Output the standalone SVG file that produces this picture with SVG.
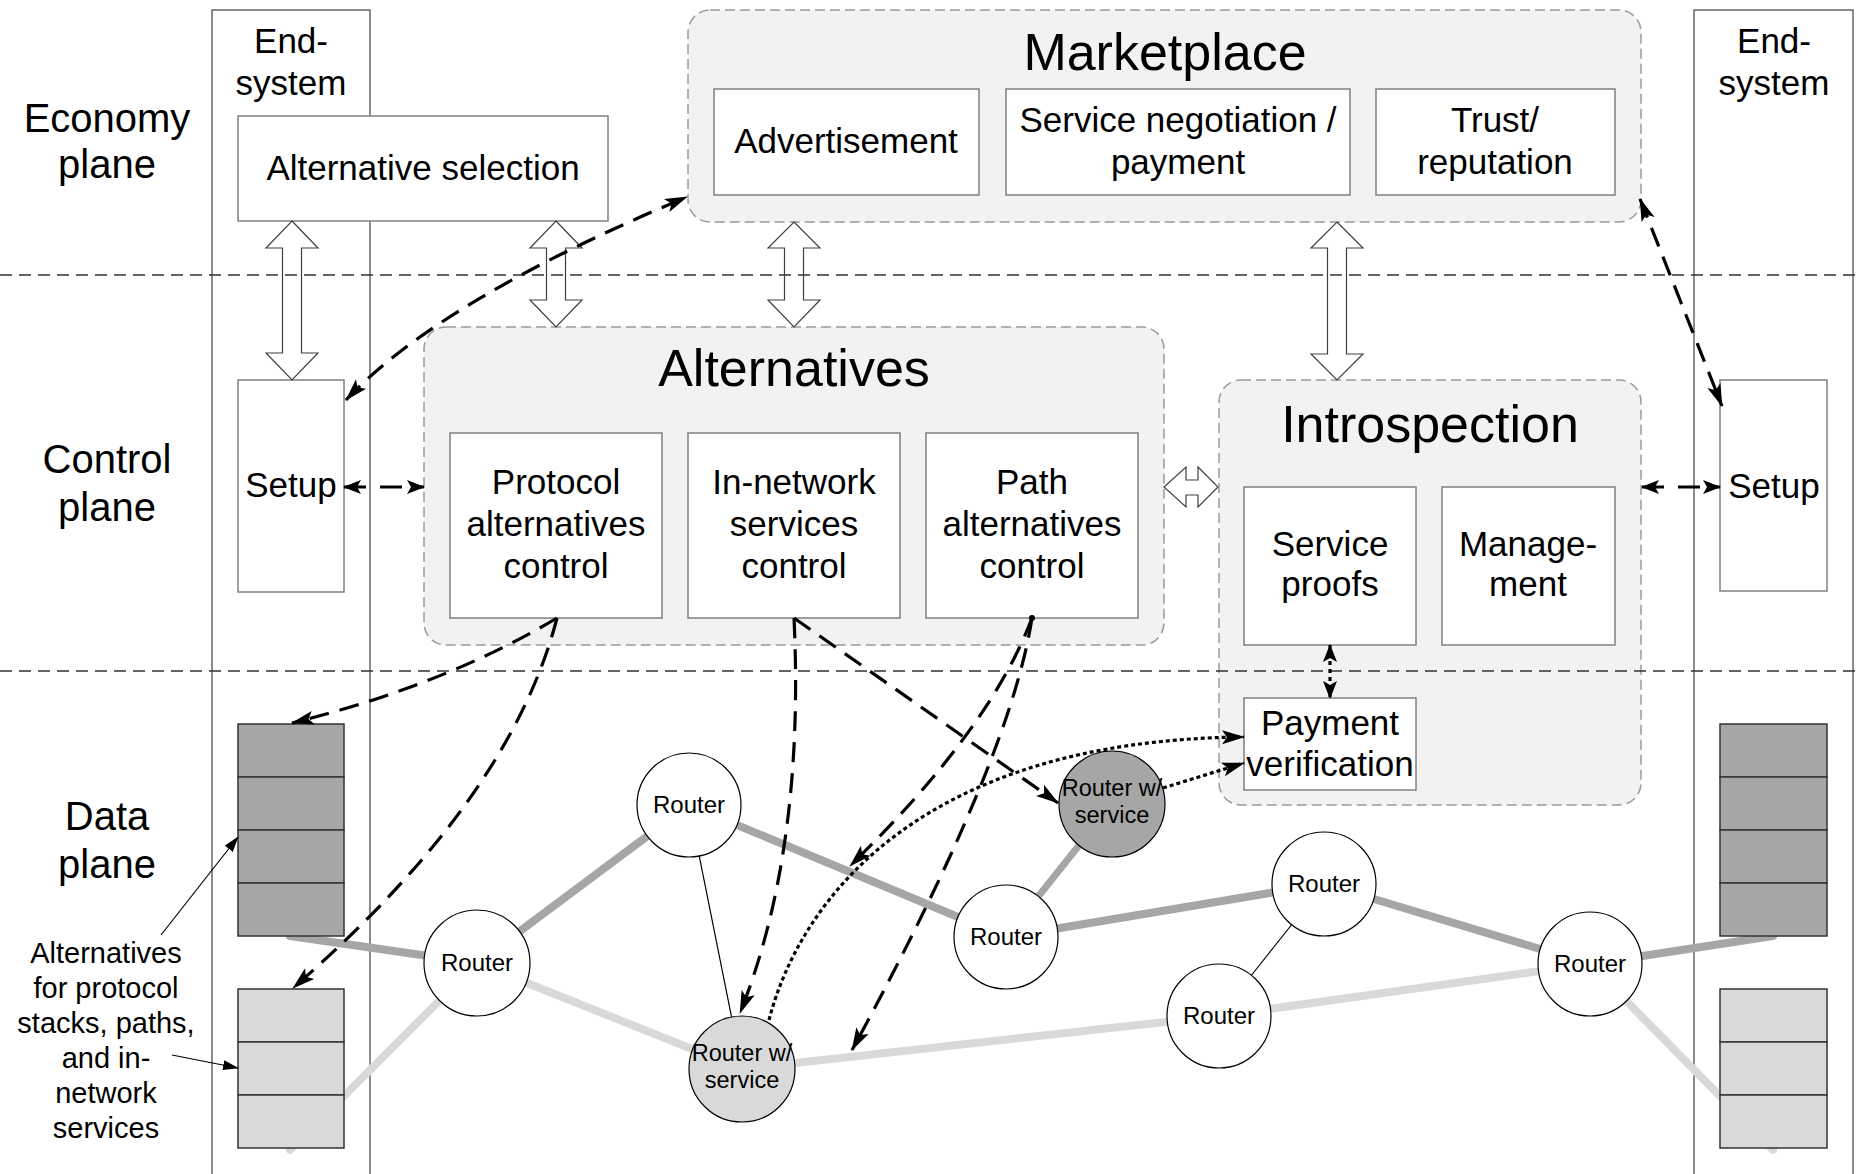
<svg xmlns="http://www.w3.org/2000/svg" width="1859" height="1174" viewBox="0 0 1859 1174">
<defs>
<style>
text{font-family:"Liberation Sans",Arial,sans-serif;fill:#000;text-anchor:middle}
.plane{font-size:40px}
.t35{font-size:35px}
.title{font-size:52px}
.rt{font-size:24px}
.rts{font-size:23.5px}
.ann{font-size:29px}
.col{fill:none;stroke:#404040;stroke-width:1.2}
.grp{fill:#f2f2f2;stroke:#9a9a9a;stroke-width:1.5;stroke-dasharray:10 5}
.box{fill:#fff;stroke:#808080;stroke-width:1.5}
.hol{fill:#fff;stroke:#404040;stroke-width:1.2}
.pl{stroke:#333;stroke-width:1.3;stroke-dasharray:12 7;fill:none}
.dk{fill:#a6a6a6;stroke:#333;stroke-width:1.5}
.lt{fill:#d9d9d9;stroke:#333;stroke-width:1.5}
.rtr{fill:#fff;stroke:#000;stroke-width:1.2}
.ldk{stroke:#a6a6a6;stroke-width:8;stroke-linecap:round;fill:none}
.llt{stroke:#d9d9d9;stroke-width:8;stroke-linecap:round;fill:none}
.thin{stroke:#000;stroke-width:1.2;fill:none}
.dash{stroke:#000;stroke-width:3.2;stroke-dasharray:20 11;fill:none}
.dot{stroke:#000;stroke-width:3.2;stroke-dasharray:4 3;fill:none}
</style>
<marker id="ah" markerWidth="24" markerHeight="16" refX="22" refY="8" orient="auto-start-reverse" markerUnits="userSpaceOnUse" viewBox="0 0 24 16"><path d="M0,1 L23,8 L0,15 L5,8 z" fill="#000"/></marker>
<marker id="ahm" markerWidth="18" markerHeight="14" refX="17" refY="7" orient="auto-start-reverse" markerUnits="userSpaceOnUse" viewBox="0 0 18 14"><path d="M0,0 L18,7 L0,14 L4,7 z" fill="#000"/></marker>
<marker id="ahs" markerWidth="16" markerHeight="10" refX="15" refY="5" orient="auto" markerUnits="userSpaceOnUse" viewBox="0 0 16 10"><path d="M0,0 L16,5 L0,10 z" fill="#000"/></marker>
</defs>
<rect width="1859" height="1174" fill="#fff"/>

<g id="end-system-left">
<rect class="col" x="212" y="10" width="158" height="1180"/>
<text class="t35" x="291" y="53">End-</text>
<text class="t35" x="291" y="95">system</text>
</g>
<g id="end-system-right">
<rect class="col" x="1694" y="10" width="159" height="1180"/>
<text class="t35" x="1774" y="53">End-</text>
<text class="t35" x="1774" y="95">system</text>
</g>

<g id="links">
<path class="ldk" d="M290,936 L477,963"/>
<path class="ldk" d="M477,963 L689,805"/>
<path class="ldk" d="M689,805 L1006,937"/>
<path class="ldk" d="M1006,937 L1112,804" style="stroke-width:7"/>
<path class="ldk" d="M1006,937 L1324,884"/>
<path class="ldk" d="M1324,884 L1590,964"/>
<path class="ldk" d="M1590,964 L1773,936"/>
<path class="llt" d="M290,1150 L477,963"/>
<path class="llt" d="M477,963 L742,1069"/>
<path class="llt" d="M742,1069 L1219,1016"/>
<path class="llt" d="M1219,1016 L1590,964"/>
<path class="llt" d="M1590,964 L1773,1150"/>
<path class="thin" d="M689,805 L742,1069"/>
<path class="thin" d="M1324,884 L1219,1016"/>
</g>

<g id="stack-left-dark">
<rect class="dk" x="238" y="724" width="106" height="53"/>
<rect class="dk" x="238" y="777" width="106" height="53"/>
<rect class="dk" x="238" y="830" width="106" height="53"/>
<rect class="dk" x="238" y="883" width="106" height="53"/>
</g>
<g id="stack-left-light">
<rect class="lt" x="238" y="989" width="106" height="53"/>
<rect class="lt" x="238" y="1042" width="106" height="53"/>
<rect class="lt" x="238" y="1095" width="106" height="53"/>
</g>
<g id="stack-right-dark">
<rect class="dk" x="1720" y="724" width="107" height="53"/>
<rect class="dk" x="1720" y="777" width="107" height="53"/>
<rect class="dk" x="1720" y="830" width="107" height="53"/>
<rect class="dk" x="1720" y="883" width="107" height="53"/>
</g>
<g id="stack-right-light">
<rect class="lt" x="1720" y="989" width="107" height="53"/>
<rect class="lt" x="1720" y="1042" width="107" height="53"/>
<rect class="lt" x="1720" y="1095" width="107" height="53"/>
</g>

<g id="router-a"><circle class="rtr" cx="689" cy="805" r="52"/><text class="rt" x="689" y="813">Router</text></g>
<g id="router-b"><circle class="rtr" cx="477" cy="963" r="53"/><text class="rt" x="477" y="971">Router</text></g>
<g id="router-service-light"><circle class="rtr" cx="742" cy="1069" r="53" style="fill:#d9d9d9"/><text class="rts" x="742" y="1061">Router w/</text><text class="rts" x="742" y="1088">service</text></g>
<g id="router-service-dark"><circle class="rtr" cx="1112" cy="804" r="53" style="fill:#a6a6a6"/><text class="rts" x="1112" y="796">Router w/</text><text class="rts" x="1112" y="823">service</text></g>
<g id="router-c"><circle class="rtr" cx="1006" cy="937" r="52"/><text class="rt" x="1006" y="945">Router</text></g>
<g id="router-d"><circle class="rtr" cx="1324" cy="884" r="52"/><text class="rt" x="1324" y="892">Router</text></g>
<g id="router-e"><circle class="rtr" cx="1219" cy="1016" r="52"/><text class="rt" x="1219" y="1024">Router</text></g>
<g id="router-f"><circle class="rtr" cx="1590" cy="964" r="52"/><text class="rt" x="1590" y="972">Router</text></g>

<g id="marketplace">
<rect class="grp" x="688" y="10" width="953" height="212" rx="22"/>
<text class="title" x="1165" y="70">Marketplace</text>
<rect class="box" x="714" y="89" width="265" height="106"/>
<text class="t35" x="846" y="153">Advertisement</text>
<rect class="box" x="1006" y="89" width="344" height="106"/>
<text class="t35" x="1178" y="132">Service negotiation /</text>
<text class="t35" x="1178" y="174">payment</text>
<rect class="box" x="1376" y="89" width="239" height="106"/>
<text class="t35" x="1495" y="132">Trust/</text>
<text class="t35" x="1495" y="174">reputation</text>
</g>

<g id="alternatives">
<rect class="grp" x="424" y="327" width="740" height="318" rx="22"/>
<text class="title" x="794" y="386">Alternatives</text>
<rect class="box" x="450" y="433" width="212" height="185"/>
<text class="t35" x="556" y="494">Protocol</text>
<text class="t35" x="556" y="536">alternatives</text>
<text class="t35" x="556" y="578">control</text>
<rect class="box" x="688" y="433" width="212" height="185"/>
<text class="t35" x="794" y="494">In-network</text>
<text class="t35" x="794" y="536">services</text>
<text class="t35" x="794" y="578">control</text>
<rect class="box" x="926" y="433" width="212" height="185"/>
<text class="t35" x="1032" y="494">Path</text>
<text class="t35" x="1032" y="536">alternatives</text>
<text class="t35" x="1032" y="578">control</text>
</g>

<g id="introspection">
<rect class="grp" x="1219" y="380" width="422" height="425" rx="22"/>
<text class="title" x="1430" y="442">Introspection</text>
<rect class="box" x="1244" y="487" width="172" height="158"/>
<text class="t35" x="1330" y="556">Service</text>
<text class="t35" x="1330" y="596">proofs</text>
<rect class="box" x="1442" y="487" width="173" height="158"/>
<text class="t35" x="1528" y="556">Manage-</text>
<text class="t35" x="1528" y="596">ment</text>
<rect class="box" x="1244" y="698" width="172" height="92"/>
<text class="t35" x="1330" y="735">Payment</text>
<text class="t35" x="1330" y="776">verification</text>
</g>

<g id="alternative-selection">
<rect class="box" x="238" y="116" width="370" height="105"/>
<text class="t35" x="423" y="180">Alternative selection</text>
</g>
<g id="setup-left">
<rect class="box" x="238" y="380" width="106" height="212"/>
<text class="t35" x="291" y="497">Setup</text>
</g>
<g id="setup-right">
<rect class="box" x="1720" y="380" width="107" height="211"/>
<text class="t35" x="1774" y="498">Setup</text>
</g>

<g id="hollow-arrows">
<polygon class="hol" points="292,221 318,248 301.5,248 301.5,353 318,353 292,380 266,353 282.5,353 282.5,248 266,248"/>
<polygon class="hol" points="556,221 582,248 565.5,248 565.5,300 582,300 556,327 530,300 546.5,300 546.5,248 530,248"/>
<polygon class="hol" points="794,222 820,248 803.5,248 803.5,300 820,300 794,327 768,300 784.5,300 784.5,248 768,248"/>
<polygon class="hol" points="1337,222 1363,248 1346.5,248 1346.5,354 1363,354 1337,380 1311,354 1327.5,354 1327.5,248 1311,248"/>
<polygon class="hol" points="1164,487 1186,467 1186,480 1198,480 1198,467 1218,487 1198,507 1198,495 1186,495 1186,507"/>
</g>

<g id="plane-lines">
<line class="pl" x1="0" y1="275" x2="1859" y2="275"/>
<line class="pl" x1="0" y1="671" x2="1859" y2="671"/>
</g>

<g id="connectors">
<path class="dash" d="M346,400 Q440,300 687,197" marker-start="url(#ah)" marker-end="url(#ah)"/>
<path class="dash" d="M1640,199 L1722,406" marker-start="url(#ah)" marker-end="url(#ah)"/>
<path class="dash" d="M344,487 L424,487" style="stroke-dasharray:22 14" marker-start="url(#ahm)" marker-end="url(#ahm)"/>
<path class="dash" d="M1642,487 L1720,487" style="stroke-dasharray:22 14" marker-start="url(#ahm)" marker-end="url(#ahm)"/>
<path class="dash" d="M1330,645 L1330,698" style="stroke-dasharray:4 4" marker-start="url(#ahm)" marker-end="url(#ahm)"/>
<path class="dash" d="M557,618 Q445,685 292,723" marker-end="url(#ah)"/>
<path class="dash" d="M557,618 Q510,800 293,988" marker-end="url(#ah)"/>
<path class="dash" d="M794,618 L1058,803" marker-end="url(#ah)"/>
<path class="dash" d="M794,618 Q805,850 740,1013" marker-end="url(#ah)"/>
<path class="dash" d="M1032,618 Q990,730 850,866" marker-end="url(#ah)"/>
<path class="dash" d="M1032,618 Q1010,760 852,1050" marker-end="url(#ah)"/>
<circle cx="1032" cy="618" r="3" fill="#000"/>
<path class="dot" d="M769,1020 C800,900 920,740 1244,737" marker-end="url(#ah)"/>
<path class="dot" d="M1163,788 L1244,763" marker-end="url(#ah)"/>
<path class="thin" d="M161,935 L238,837" marker-end="url(#ahs)"/>
<path class="thin" d="M172,1055 L238,1068" marker-end="url(#ahs)"/>
</g>

<g id="labels">
<text class="plane" x="107" y="132">Economy</text>
<text class="plane" x="107" y="178">plane</text>
<text class="plane" x="107" y="473">Control</text>
<text class="plane" x="107" y="521">plane</text>
<text class="plane" x="107" y="830">Data</text>
<text class="plane" x="107" y="878">plane</text>
<text class="ann" x="106" y="963">Alternatives</text>
<text class="ann" x="106" y="998">for protocol</text>
<text class="ann" x="106" y="1033">stacks, paths,</text>
<text class="ann" x="106" y="1068">and in-</text>
<text class="ann" x="106" y="1103">network</text>
<text class="ann" x="106" y="1138">services</text>
</g>
</svg>
